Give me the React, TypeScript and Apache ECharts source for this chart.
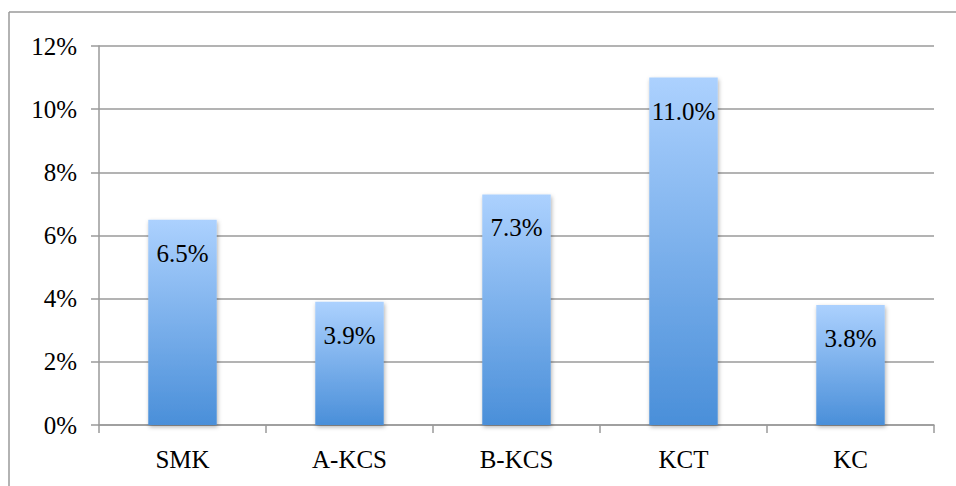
import React, { useEffect, useRef } from "react";
import * as echarts from "echarts";

const categories = ["SMK", "A-KCS", "B-KCS", "KCT", "KC"];
const shares = [6.5, 3.9, 7.3, 11.0, 3.8];
const yTicks = [0, 2, 4, 6, 8, 10, 12];

const FONT = "'Liberation Serif'";
const GRAY = "#9a9a9a";

export default function App() {
  const ref = useRef<HTMLDivElement>(null);

  useEffect(() => {
    if (!ref.current) return;
    const chart = echarts.init(ref.current, null, { renderer: "svg" });
    chart.setOption({
      animation: false,
      backgroundColor: "#ffffff",
      textStyle: { fontFamily: FONT },
      grid: { left: 99, right: 22, top: 46, bottom: 61 },
      graphic: [
        {
          type: "line",
          shape: { x1: 9, y1: 12, x2: 956, y2: 12 },
          style: { stroke: GRAY, lineWidth: 1.5 },
        },
        {
          type: "line",
          shape: { x1: 9, y1: 12, x2: 9, y2: 486 },
          style: { stroke: GRAY, lineWidth: 1.5 },
        },
      ],
      xAxis: {
        type: "category",
        data: categories,
        axisLine: { show: true, lineStyle: { color: GRAY, width: 1.5 } },
        axisTick: { show: true, length: 8, lineStyle: { color: GRAY, width: 1.5 } },
        axisLabel: { color: "#000", fontFamily: FONT, fontSize: 25, margin: 22 },
      },
      yAxis: {
        type: "value",
        min: yTicks[0],
        max: yTicks[yTicks.length - 1],
        interval: 2,
        axisLine: { show: true, lineStyle: { color: GRAY, width: 1.5 } },
        axisTick: { show: true, length: 8, lineStyle: { color: GRAY, width: 1.5 } },
        splitLine: { show: true, lineStyle: { color: GRAY, width: 1.5 } },
        axisLabel: {
          color: "#000",
          fontFamily: FONT,
          fontSize: 25,
          margin: 22,
          formatter: (v: number) => `${v}%`,
        },
      },
      series: [
        {
          type: "bar",
          data: shares,
          barCategoryGap: "59%",
          itemStyle: {
            color: new echarts.graphic.LinearGradient(0, 0, 0, 1, [
              { offset: 0, color: "#acd1fe" },
              { offset: 1, color: "#4a8fd9" },
            ]),
            shadowColor: "rgba(0,0,0,0.3)",
            shadowBlur: 4,
            shadowOffsetX: 1,
            shadowOffsetY: 2,
          },
          label: {
            show: true,
            position: "insideTop",
            distance: 21,
            color: "#000",
            fontFamily: FONT,
            fontSize: 25,
            formatter: (p: any) => `${Number(p.value).toFixed(1)}%`,
          },
        },
      ],
    });
    return () => chart.dispose();
  }, []);

  return (
    <div
      ref={ref}
      style={{ position: "fixed", left: 0, top: 0, width: 956, height: 486 }}
    />
  );
}
